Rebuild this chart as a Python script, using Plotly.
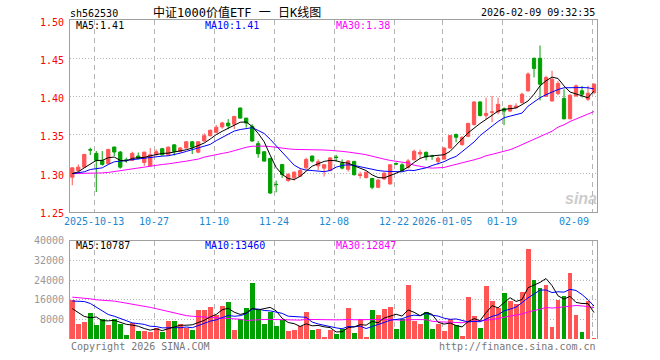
import pandas as pd
import plotly.graph_objects as go

# ---------------- data ----------------
holidays = ["2025-10-01", "2025-10-02", "2025-10-03", "2025-10-06", "2025-10-07", "2025-10-08",
            "2026-01-01", "2026-01-02"]
dates = [d.strftime("%Y-%m-%d") for d in pd.bdate_range("2025-09-29", "2026-02-09")
         if d.strftime("%Y-%m-%d") not in holidays]

open_ = [1.2947, 1.3035, 1.3079, 1.3306, 1.3259, 1.3167, 1.3123, 1.3342, 1.3276, 1.3173,
         1.3167, 1.3224, 1.314, 1.3096, 1.3245, 1.332, 1.324, 1.337, 1.3284, 1.333,
         1.341, 1.3275, 1.342, 1.349, 1.3534, 1.3604, 1.3654, 1.364, 1.3851, 1.3719,
         1.361, 1.3386, 1.328, 1.3193, 1.2855, 1.3114, 1.2904, 1.2939, 1.296, 1.307,
         1.3224, 1.3096, 1.3066, 1.3035, 1.3212, 1.313, 1.305, 1.3154, 1.297, 1.2943,
         1.293, 1.2816, 1.2925, 1.286, 1.3127, 1.311, 1.3075, 1.3175, 1.325, 1.3272,
         1.3222, 1.3154, 1.3184, 1.3329, 1.3504, 1.3373, 1.3482, 1.3636, 1.393, 1.3754,
         1.3795, 1.3798, 1.3842, 1.3811, 1.3855, 1.3921, 1.4075, 1.45, 1.45, 1.4004,
         1.3943, 1.4039, 1.3974, 1.371, 1.4009, 1.4075, 1.3965, 1.4053]
high = [1.3075, 1.3114, 1.325, 1.3333, 1.3289, 1.3289, 1.3315, 1.3345, 1.329, 1.3202,
        1.3281, 1.327, 1.328, 1.333, 1.331, 1.333, 1.335, 1.338, 1.334, 1.342,
        1.342, 1.342, 1.352, 1.357, 1.363, 1.367, 1.3706, 1.3745, 1.3855, 1.372,
        1.364, 1.3421, 1.329, 1.32, 1.2904, 1.3118, 1.3004, 1.3025, 1.306, 1.3202,
        1.3228, 1.318, 1.3115, 1.321, 1.324, 1.318, 1.317, 1.316, 1.302, 1.302,
        1.294, 1.292, 1.301, 1.312, 1.314, 1.313, 1.3185, 1.3307, 1.3307, 1.3285,
        1.3241, 1.3219, 1.334, 1.35, 1.3518, 1.348, 1.366, 1.394, 1.394, 1.3987,
        1.4009, 1.3987, 1.386, 1.389, 1.3912, 1.405, 1.4316, 1.451, 1.4667, 1.4272,
        1.4338, 1.4206, 1.4096, 1.403, 1.416, 1.414, 1.414, 1.4175]
low = [1.2842, 1.3025, 1.307, 1.3237, 1.2754, 1.31, 1.312, 1.3224, 1.306, 1.3136,
       1.3158, 1.318, 1.3096, 1.3087, 1.323, 1.323, 1.323, 1.323, 1.327, 1.332,
       1.325, 1.326, 1.341, 1.348, 1.352, 1.358, 1.3575, 1.3575, 1.3715, 1.3596,
       1.341, 1.3202, 1.315, 1.273, 1.275, 1.2939, 1.2886, 1.2904, 1.295, 1.3048,
       1.314, 1.304, 1.2956, 1.3025, 1.315, 1.305, 1.302, 1.297, 1.293, 1.293,
       1.279, 1.2805, 1.291, 1.285, 1.3105, 1.302, 1.306, 1.317, 1.3184, 1.3167,
       1.3175, 1.311, 1.318, 1.332, 1.3404, 1.336, 1.347, 1.362, 1.374, 1.3702,
       1.3667, 1.377, 1.3627, 1.38, 1.385, 1.391, 1.4065, 1.425, 1.395, 1.40,
       1.3935, 1.4018, 1.3702, 1.3705, 1.40, 1.3987, 1.3943, 1.4031]
close = [1.307, 1.3079, 1.3246, 1.3303, 1.3167, 1.3114, 1.3311, 1.3276, 1.3079, 1.3171,
         1.3259, 1.3193, 1.3275, 1.324, 1.328, 1.324, 1.334, 1.3284, 1.333, 1.341,
         1.334, 1.341, 1.349, 1.356, 1.36, 1.3656, 1.3618, 1.3741, 1.3719, 1.3654,
         1.3421, 1.3254, 1.3158, 1.2741, 1.2851, 1.2982, 1.2982, 1.3013, 1.3035, 1.318,
         1.3158, 1.315, 1.311, 1.32, 1.3205, 1.3066, 1.316, 1.298, 1.298, 1.3013,
         1.2816, 1.291, 1.30, 1.311, 1.312, 1.3035, 1.316, 1.3285, 1.3272, 1.3211,
         1.3219, 1.3197, 1.3329, 1.3491, 1.3469, 1.3469, 1.3649, 1.393, 1.3754, 1.3781,
         1.38, 1.3899, 1.3811, 1.3886, 1.3877, 1.4031, 1.4294, 1.4368, 1.4162, 1.425,
         1.4228, 1.4171, 1.371, 1.4018, 1.414, 1.4031, 1.4044, 1.4162]

ma5 = [1.2995, 1.3018, 1.307, 1.3123, 1.3167, 1.3167, 1.3202, 1.3211, 1.3167, 1.3158,
       1.3193, 1.3202, 1.3206, 1.3227, 1.3245, 1.3258, 1.3262, 1.3276, 1.3284, 1.3306,
       1.3328, 1.3359, 1.3394, 1.3446, 1.3503, 1.3547, 1.359, 1.363, 1.3665, 1.367,
       1.361, 1.352, 1.341, 1.3235, 1.3075, 1.2985, 1.293, 1.2917, 1.296, 1.3026,
       1.3092, 1.3123, 1.3154, 1.3167, 1.3162, 1.314, 1.3132, 1.3096, 1.3066, 1.3035,
       1.2978, 1.2943, 1.2939, 1.2965, 1.30, 1.3035, 1.3079, 1.314, 1.3193, 1.3219,
       1.3228, 1.3228, 1.3241, 1.3285, 1.336, 1.3447, 1.3526, 1.3592, 1.3649, 1.3702,
       1.3759, 1.3811, 1.3833, 1.3842, 1.3851, 1.3895, 1.3943, 1.4031, 1.414, 1.4206,
       1.4255, 1.4236, 1.414, 1.406, 1.403, 1.401, 1.3985, 1.4075]
ma10 = [1.2995, 1.3004, 1.3018, 1.3048, 1.3057, 1.307, 1.3114, 1.3149, 1.3158, 1.3167,
        1.318, 1.3193, 1.3202, 1.321, 1.3219, 1.3223, 1.3227, 1.3241, 1.3262, 1.3284,
        1.3306, 1.3324, 1.335, 1.3376, 1.3425, 1.347, 1.3515, 1.355, 1.357, 1.3583,
        1.3594, 1.3558, 1.3518, 1.3443, 1.3355, 1.3268, 1.318, 1.3105, 1.3061, 1.304,
        1.3035, 1.3025, 1.302, 1.3035, 1.3079, 1.3101, 1.311, 1.3101, 1.3083, 1.3066,
        1.3044, 1.3035, 1.3026, 1.3022, 1.3022, 1.3018, 1.3039, 1.3035, 1.3053, 1.307,
        1.310, 1.312, 1.315, 1.319, 1.3219, 1.3281, 1.3342, 1.3408, 1.3491, 1.3557,
        1.3614, 1.3675, 1.3724, 1.3745, 1.3765, 1.3785, 1.3875, 1.3935, 1.3985, 1.4025,
        1.4061, 1.4092, 1.4115, 1.4118, 1.4118, 1.4118, 1.4115, 1.41]
ma30 = [1.2995, 1.2995, 1.2996, 1.2998, 1.3002, 1.3004, 1.301, 1.3022, 1.3035, 1.3048,
        1.306, 1.307, 1.3083, 1.3096, 1.3105, 1.3114, 1.3122, 1.3131, 1.314, 1.3157,
        1.3171, 1.3184, 1.321, 1.3223, 1.3236, 1.3258, 1.3272, 1.3294, 1.332, 1.3338,
        1.3352, 1.3355, 1.3353, 1.3348, 1.3335, 1.3325, 1.3318, 1.3311, 1.3311, 1.3311,
        1.3308, 1.3303, 1.3303, 1.3298, 1.3294, 1.3285, 1.3276, 1.3268, 1.3254, 1.3241,
        1.3219, 1.3202, 1.3184, 1.3167, 1.3154, 1.314, 1.3132, 1.3105, 1.3088, 1.3075,
        1.3066, 1.3066, 1.3075, 1.3096, 1.3114, 1.3132, 1.3149, 1.3175, 1.3197, 1.3228,
        1.3246, 1.3263, 1.3281, 1.3307, 1.3338, 1.3373, 1.3408, 1.3439, 1.3474, 1.3509,
        1.3548, 1.3601, 1.3632, 1.3675, 1.371, 1.3745, 1.3775, 1.3805]

volume = [15870, 6050, 6860, 10490, 5650, 8340, 5650, 8070, 6320, 1610,
          6725, 3360, 3360, 2960, 4440, 2960, 7260, 7260, 6050, 4570,
          3770, 11840, 11840, 12910, 9680, 13450, 14930, 3770, 8340, 12510,
          23000, 11840, 6050, 11160, 5380, 7800, 3230, 3770, 5380, 10890,
          3630, 4035, 940, 3770, 2020, 4035, 12510, 2420, 8340, 940,
          11700, 9680, 12100, 12910, 4035, 8070, 22190, 7260, 6050, 10890,
          4035, 6050, 3360, 8340, 5650, 1210, 16950, 9280, 4440, 21790,
          15470, 12640, 18960, 15470, 14120, 19370, 36720, 24210, 20980, 22190,
          4840, 15870, 17490, 26770, 9680, 2690, 15470, 400]
vma5 = [12400, 10800, 9200, 8700, 8984, 7478, 7398, 7640, 6806, 5998,
        5675, 5217, 4275, 3603, 4169, 3416, 4196, 4976, 5594, 5620,
        5782, 6698, 7614, 8986, 10008, 11944, 12562, 10948, 10034, 10600,
        12510, 11892, 12348, 12912, 11486, 8446, 6724, 6268, 5112, 6214,
        5380, 5541, 4975, 4653, 2879, 2960, 4655, 4951, 5865, 5649,
        7182, 6616, 8552, 9466, 10085, 9359, 11861, 10893, 9521, 10892,
        10085, 6857, 6077, 6535, 5487, 4922, 7102, 8286, 7506, 10734,
        13586, 12724, 14660, 16866, 15332, 16112, 20928, 21978, 23080, 24694,
        21788, 17618, 16274, 17432, 14930, 14500, 14420, 10787]
vma10 = [15500, 15500, 15300, 14500, 13000, 11500, 10000, 9300, 8300, 7600,
         6577, 6308, 5958, 5205, 5084, 4546, 4707, 4626, 4599, 4895,
         4599, 5447, 6295, 7290, 7814, 8863, 9630, 9281, 9510, 10304,
         12227, 12227, 11648, 11473, 11043, 10478, 9308, 9308, 9012, 8850,
         6913, 6133, 5622, 4883, 4547, 4170, 5098, 4963, 5259, 4264,
         5071, 5636, 6752, 7666, 7867, 8271, 9239, 9723, 9494, 10489,
         9722, 9359, 8485, 8028, 8190, 7504, 6980, 7182, 7021, 8111,
         9254, 9913, 11473, 12186, 13033, 14849, 16826, 18319, 19973, 20013,
         18950, 19273, 19126, 20256, 19812, 18144, 16019, 13460]
vma30 = [17080, 16950, 16680, 16410, 16000, 15870, 15740, 15470, 15060, 14660,
         14260, 13990, 13450, 12910, 12370, 11840, 11300, 10490, 9950, 9550,
         9280, 9150, 9010, 8880, 8740, 8610, 8470, 8340, 8070, 7563,
         7801, 7994, 7967, 7989, 7980, 7962, 7882, 7738, 7707, 8016,
         7913, 7936, 7855, 7882, 7801, 7837, 8012, 7851, 7927, 7806,
         8070, 7998, 8007, 8007, 7819, 7640, 7882, 7998, 7922, 7868,
         7235, 7042, 6953, 6859, 6868, 6648, 7105, 7289, 7258, 7621,
         8016, 8303, 8903, 9293, 9697, 10208, 11015, 11741, 12162, 12871,
         12642, 12848, 13028, 13490, 13678, 13499, 13275, 12847]

tick_dates = ["2025-10-13", "2025-10-27", "2025-11-10", "2025-11-24", "2025-12-08",
              "2025-12-22", "2026-01-05", "2026-01-19", "2026-02-09"]
tick_text = ["2025-10-13", "10-27", "11-10", "11-24", "12-08",
             "12-22", "2026-01-05", "01-19", "02-09"]
price_ticks = [1.25, 1.30, 1.35, 1.40, 1.45, 1.50]
price_text = ["1.25", "1.30", "1.35", "1.40", "1.45", "1.50"]
vol_ticks = [8000, 16000, 24000, 32000, 40000]
vol_text = ["8000", "16000", "24000", "32000", "40000"]

# ---------------- style ----------------
RED = "#ff5555"
GREEN = "#00a000"
FRAME = "#a0a0a0"
GRID = "#b4b4b4"
MONO = "DejaVu Sans Mono"
CJK = "DejaVu Sans Mono, Noto Sans CJK SC"
W, H = 660, 360
ML, MR, MT, MB = 70, 63, 20, 21
PW, PH = W - ML - MR, H - MT - MB

idx = list(range(len(dates)))
tickpos = [dates.index(d) - 0.33 for d in tick_dates]
bar_colors = [RED if c >= o else GREEN for o, c in zip(open_, close)]

fig = go.Figure()
fig.add_trace(go.Candlestick(
    x=idx, open=open_, high=high, low=low, close=close,
    increasing=dict(line=dict(color=RED, width=1), fillcolor=RED),
    decreasing=dict(line=dict(color=GREEN, width=1), fillcolor=GREEN),
    whiskerwidth=0, xaxis="x", yaxis="y", showlegend=False, hoverinfo="skip"))
for series, col in [(ma30, "#ff00ff"), (ma10, "#0000ff"), (ma5, "#000000")]:
    fig.add_trace(go.Scatter(x=idx, y=series, mode="lines", line=dict(color=col, width=1),
                             xaxis="x", yaxis="y", showlegend=False, hoverinfo="skip"))

fig.add_trace(go.Bar(x=idx, y=volume, marker=dict(color=bar_colors, line=dict(width=0)),
                     width=0.82, xaxis="x2", yaxis="y2", showlegend=False, hoverinfo="skip"))
for series, col in [(vma30, "#ff00ff"), (vma10, "#0000ff"), (vma5, "#000000")]:
    fig.add_trace(go.Scatter(x=idx, y=series, mode="lines", line=dict(color=col, width=1),
                             xaxis="x2", yaxis="y2", showlegend=False, hoverinfo="skip"))

xr = [-0.38, len(dates) - 0.5]
main_bottom = (H - MB - 211.5) / PH
vol_top = (H - MB - 241) / PH

fig.update_layout(
    width=W, height=H, margin=dict(l=ML, r=MR, t=MT, b=MB),
    paper_bgcolor="white", plot_bgcolor="white", boxgap=0.22, bargap=0,
    xaxis=dict(domain=[0, 1], anchor="y", range=xr, rangeslider=dict(visible=False),
               tickmode="array", tickvals=tickpos, showticklabels=False, ticks="",
               showgrid=True, gridcolor=GRID, griddash="5px,4px", gridwidth=1,
               showline=True, linecolor=FRAME, linewidth=1, mirror=True, zeroline=False),
    yaxis=dict(domain=[main_bottom, 1], anchor="x", range=[1.25, 1.50],
               tickmode="array", tickvals=price_ticks, showticklabels=False, ticks="",
               showgrid=True, gridcolor=GRID, griddash="1px,2px", gridwidth=1,
               showline=True, linecolor=FRAME, linewidth=1, mirror=True, zeroline=False),
    xaxis2=dict(domain=[0, 1], anchor="y2", range=xr, side="top",
                tickmode="array", tickvals=tickpos, showticklabels=False, ticks="",
                showgrid=True, gridcolor=GRID, griddash="5px,4px", gridwidth=1,
                showline=True, linecolor=FRAME, linewidth=1, mirror=False, zeroline=False),
    yaxis2=dict(domain=[0, vol_top], anchor="x2", range=[0, 40000],
                tickmode="array", tickvals=vol_ticks, showticklabels=False, ticks="",
                showgrid=True, gridcolor=GRID, griddash="1px,2px", gridwidth=1,
                showline=True, linecolor=FRAME, linewidth=1, mirror=True, zeroline=False),
)

# axis tick labels (placed through the axes' own scales)
for v, t in zip(price_ticks, price_text):
    fig.add_annotation(text=t, x=0, xref="paper", xanchor="right", xshift=-4,
                       y=v, yref="y", yanchor="middle", yshift=-2, showarrow=False,
                       font=dict(family=MONO, size=10, color="#ff0000"))
for v, t in zip(vol_ticks, vol_text):
    fig.add_annotation(text=t, x=0, xref="paper", xanchor="right", xshift=-4,
                       y=v, yref="y2", yanchor="middle", showarrow=False,
                       font=dict(family=MONO, size=10, color="#999999"))


def px2paper(px, py):
    return (px - ML) / PW, (H - MB - py) / PH


def text_at(text, px, py, color, anchor="left", size=10, family=MONO, **kw):
    x, y = px2paper(px, py)
    fig.add_annotation(text=text, x=x, y=y, xref="paper", yref="paper", xanchor=anchor,
                       yanchor="middle", showarrow=False,
                       font=dict(family=family, size=size, color=color), **kw)


text_at("sh562530", 68, 13, "#000000")
text_at("中证1000价值ETF 一 日K线图", 237, 12, "#000000", anchor="center", size=12, family=CJK)
text_at("2026-02-09 09:32:35", 597, 12.5, "#000000", anchor="right")
text_at("MA5:1.41", 74, 26, "#000000")
text_at("MA10:1.41", 203, 26, "#0000ff")
text_at("MA30:1.38", 334, 26, "#ff00ff")
text_at("MA5:10787", 74, 246, "#000000")
text_at("MA10:13460", 203, 246, "#0000ff")
text_at("MA30:12847", 334, 246, "#ff00ff")
text_at("Copyright 2026 SINA.COM", 69, 346, "#777777")
text_at("http://finance.sina.com.cn", 598, 346, "#777777", anchor="right")
text_at("<b><i>sina</i></b>", 581, 199, "rgba(190,190,190,0.8)", anchor="center", size=16,
        family="Liberation Sans")

label_y = (H - MB - 221.5) / PH
for k, (pos, lab) in enumerate(zip(tickpos, tick_text)):
    last = k == len(tickpos) - 1
    fig.add_annotation(text=lab, x=pos, y=label_y, xref="x", yref="paper",
                       xanchor="right" if last else "center", yanchor="middle",
                       xshift=-1 if last else 0, showarrow=False,
                       font=dict(family=MONO, size=10, color="#1a88d0"))

fig.write_html("out.html", config={"displayModeBar": False},
               post_script="document.body.style.margin='0';")
